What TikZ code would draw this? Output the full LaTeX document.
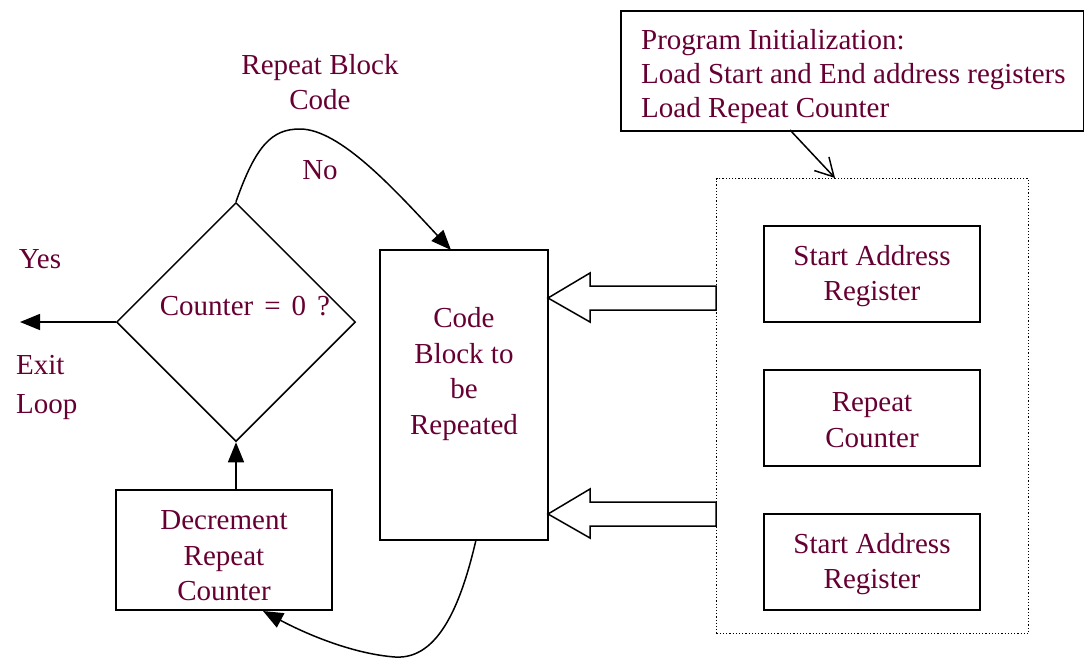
\documentclass[tikz,border=0pt]{standalone}
\usepackage{fontspec}
\setmainfont{Liberation Serif}
\usetikzlibrary{arrows.meta,shapes.geometric,shapes.arrows}
\definecolor{txt}{RGB}{102,0,51}
\begin{document}
\begin{tikzpicture}[x=1pt,y=-1pt,
  every node/.style={font=\fontsize{29}{35.5}\selectfont, text=txt},
  box/.style={draw=black, line width=1.5pt, rectangle, inner sep=0pt},
  conn/.style={line width=1.5pt, -{Triangle[length=20pt,width=16pt]}},
  lbl/.style={align=center, inner sep=0pt},
  hollow/.style={draw=black, line width=1.5pt, fill=white}]
\useasboundingbox (0,0) rectangle (1084,659);

% initialization note
\node[box, minimum width=463pt, minimum height=120pt, anchor=north west] (init) at (620,10) {};
\node[align=left, anchor=west, inner sep=0pt, font=\fontsize{29}{34}\selectfont] (inittxt) at (641,77)
  {Program Initialization:\\Load Start and End address registers\\Load Repeat Counter};

% register group
\node[draw=black, dotted, line width=1.2pt, minimum width=312pt, minimum height=455pt, anchor=north west, inner sep=0pt] (regs) at (716,178) {};
\node[box, minimum width=216pt, minimum height=96pt] (start1) at (872,274) {};
\node[box, minimum width=216pt, minimum height=96pt] (repc) at (872,418) {};
\node[box, minimum width=216pt, minimum height=96pt] (start2) at (872,562) {};
\node[lbl] (start1txt) at (872,276) {Start Address\\Register};
\node[lbl] (repctxt) at (872,420) {Repeat\\Counter};
\node[lbl] (start2txt) at (872,564) {Start Address\\Register};

\coordinate (noteA) at (790,130);
\draw[line width=1.5pt, -{Straight Barb[length=18pt,width=20pt]}] (noteA) -- (regs.north west -| 835,0);

% code block
\node[box, minimum width=168pt, minimum height=290pt] (code) at (464,395) {};
\node[lbl] (codetxt) at (464,374) {Code\\Block to\\be\\Repeated};

% block arrows from register group into code block
\draw[hollow, line join=miter] (716,286) -- (590,286) -- (590,273) -- (548,298) -- (590,322) -- (590,310) -- (716,310) -- cycle;
\draw[hollow, line join=miter] (716,502) -- (590,502) -- (590,489) -- (548,514) -- (590,538) -- (590,526) -- (716,526) -- cycle;

% decision
\node[draw=black, line width=1.5pt, diamond, minimum width=239pt, minimum height=239pt, inner sep=0pt] (dec) at (236,322) {};
\node[inner sep=0pt] (dectxt) at (245,306) {Counter\hspace{0.38em}=\hspace{0.38em}0\hspace{0.38em}?};

% decrement box
\node[box, minimum width=216pt, minimum height=120pt] (decr) at (224,550) {};
\node[lbl] (decrtxt) at (224,556) {Decrement\\Repeat\\Counter};

\coordinate (exit) at (20,322);
\draw[conn] (dec.west) -- (exit);
\draw[conn] (decr.north -| dec.south) -- (dec.south);

% loop back to code block
\coordinate (peak) at (300,129);
\coordinate (codeIn) at (451,250);
\draw[conn] (dec.north) .. controls (256,145) and (272,129) .. (peak)
  .. controls (340,129) and (395,190) .. (codeIn);

% code block down to decrement
\coordinate (codeOut) at (476,540);
\coordinate (low) at (395,657);
\coordinate (decrIn) at (263,611);
\draw[conn] (codeOut) .. controls (462,600) and (440,660) .. (low)
  .. controls (355,654) and (310,636) .. (decrIn);

% labels
\node[lbl] (rbc) at (320,82) {Repeat Block\\Code};
\node[inner sep=0pt] (no) at (320,170) {No};
\node[inner sep=0pt] (yes) at (40,259) {Yes};
\node[align=left, anchor=west, inner sep=0pt, font=\fontsize{29}{39}\selectfont] (exitlbl) at (16,387) {Exit\\Loop};
\end{tikzpicture}
\end{document}
